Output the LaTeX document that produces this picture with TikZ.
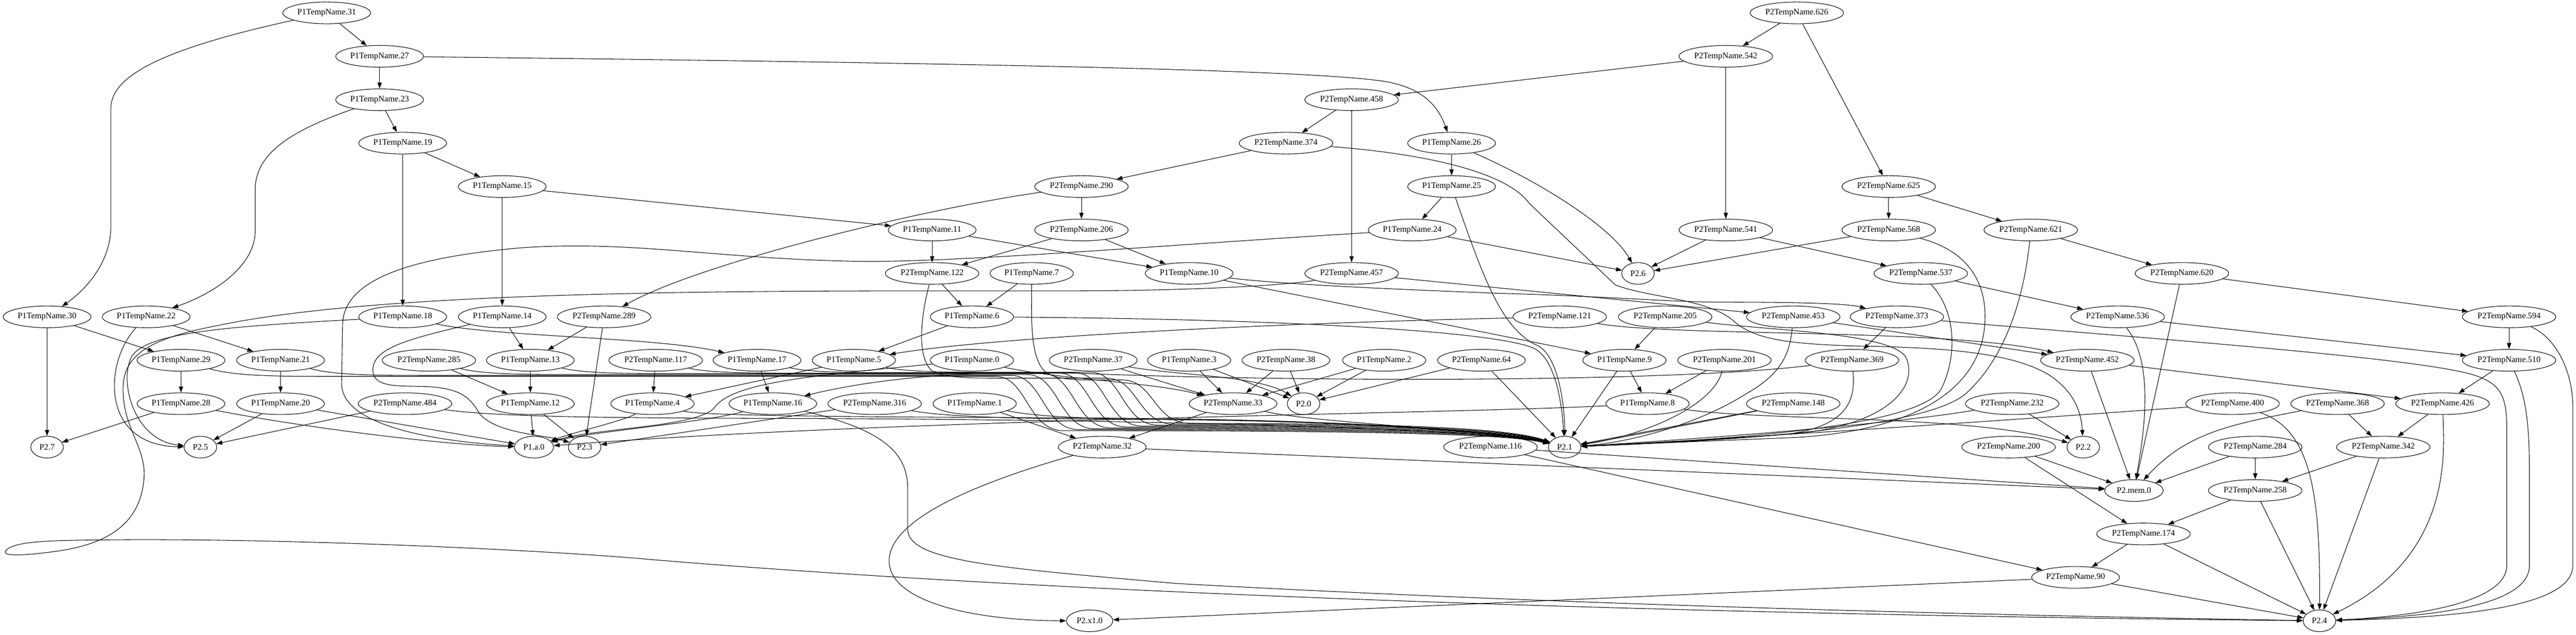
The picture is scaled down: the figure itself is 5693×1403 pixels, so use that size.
\documentclass[tikz,border=0pt]{standalone}
\usepackage{fontspec}
\setmainfont{Liberation Serif}
\usetikzlibrary{shapes.geometric,arrows.meta}
\newcommand\gvfont{\fontsize{14pt}{16pt}\selectfont}
\begin{document}
\begin{tikzpicture}[x=0.75pt,y=-0.75pt,
  gv/.style={draw,ellipse,line width=0.9pt,inner sep=0pt,minimum height=36pt,font=\gvfont},
  w1/.style={minimum width=138pt},
  w2/.style={minimum width=145.5pt},
  w3/.style={minimum width=155pt},
  ws/.style={minimum width=54pt},
  ed/.style={line width=0.9pt,-{Triangle[length=10pt,width=7pt]}}]
\useasboundingbox (0,0) rectangle (5693,1403);
% rank 0-6
\node[gv,w2] (a31) at (722,28.5) {P1TempName.31};
\node[gv,w3] (b626) at (3971,28.5) {P2TempName.626};
\node[gv,w2] (a27) at (839,124.5) {P1TempName.27};
\node[gv,w3] (b542) at (3814,124.5) {P2TempName.542};
\node[gv,w2] (a23) at (839,220.5) {P1TempName.23};
\node[gv,w3] (b458) at (2987,220.5) {P2TempName.458};
\node[gv,w2] (a19) at (890,316.5) {P1TempName.19};
\node[gv,w3] (b374) at (2842,316.5) {P2TempName.374};
\node[gv,w2] (a26) at (3208,316.5) {P1TempName.26};
\node[gv,w2] (a15) at (1110,412.5) {P1TempName.15};
\node[gv,w3] (b290) at (2390,412.5) {P2TempName.290};
\node[gv,w2] (a25) at (3208,412.5) {P1TempName.25};
\node[gv,w3] (b625) at (4174,412.5) {P2TempName.625};
\node[gv,w2] (a11) at (2060,508.5) {P1TempName.11};
\node[gv,w3] (b206) at (2390,508.5) {P2TempName.206};
\node[gv,w2] (a24) at (3121,508.5) {P1TempName.24};
\node[gv,w3] (b541) at (3814,508.5) {P2TempName.541};
\node[gv,w3] (b568) at (4174,508.5) {P2TempName.568};
\node[gv,w3] (b621) at (4488,508.5) {P2TempName.621};
\node[gv,w3] (b122) at (2060,604.5) {P2TempName.122};
\node[gv,w1] (a7) at (2280,604.5) {P1TempName.7};
\node[gv,w2] (a10) at (2628,604.5) {P1TempName.10};
\node[gv,w3] (b457) at (2987,604.5) {P2TempName.457};
\node[gv,ws] (o6) at (3620,604.5) {P2.6};
\node[gv,w3] (b537) at (4245,604.5) {P2TempName.537};
\node[gv,w3] (b620) at (4822,604.5) {P2TempName.620};
% rank 7
\node[gv,w2] (a30) at (104,700.5) {P1TempName.30};
\node[gv,w2] (a22) at (323,700.5) {P1TempName.22};
\node[gv,w2] (a18) at (890,700.5) {P1TempName.18};
\node[gv,w2] (a14) at (1110,700.5) {P1TempName.14};
\node[gv,w3] (b289) at (1335,700.5) {P2TempName.289};
\node[gv,w1] (a6) at (2148,700.5) {P1TempName.6};
\node[gv,w3] (b121) at (3447,700.5) {P2TempName.121};
\node[gv,w3] (b205) at (3680,700.5) {P2TempName.205};
\node[gv,w3] (b453) at (3963,700.5) {P2TempName.453};
\node[gv,w3] (b373) at (4192,700.5) {P2TempName.373};
\node[gv,w3] (b536) at (4680,700.5) {P2TempName.536};
\node[gv,w3] (b594) at (5545,700.5) {P2TempName.594};
% rank 8
\node[gv,w2] (a29) at (400,796.5) {P1TempName.29};
\node[gv,w2] (a21) at (620,796.5) {P1TempName.21};
\node[gv,w3] (b285) at (948,796.5) {P2TempName.285};
\node[gv,w2] (a13) at (1172,796.5) {P1TempName.13};
\node[gv,w3] (b117) at (1449,796.5) {P2TempName.117};
\node[gv,w2] (a17) at (1673,796.5) {P1TempName.17};
\node[gv,w1] (a5) at (1887,796.5) {P1TempName.5};
\node[gv,w1] (a0) at (2148,796.5) {P1TempName.0};
\node[gv,w2] (b37) at (2416,796.5) {P2TempName.37};
\node[gv,w1] (a3) at (2628,796.5) {P1TempName.3};
\node[gv,w2] (b38) at (2842,796.5) {P2TempName.38};
\node[gv,w1] (a2) at (3059,796.5) {P1TempName.2};
\node[gv,w2] (b64) at (3274,796.5) {P2TempName.64};
\node[gv,w1] (a9) at (3590,796.5) {P1TempName.9};
\node[gv,w3] (b201) at (3811,796.5) {P2TempName.201};
\node[gv,w3] (b369) at (4093,796.5) {P2TempName.369};
\node[gv,w3] (b452) at (4613,796.5) {P2TempName.452};
\node[gv,w3] (b510) at (5545,796.5) {P2TempName.510};
% rank 9
\node[gv,w2] (a28) at (400,892.5) {P1TempName.28};
\node[gv,w2] (a20) at (620,892.5) {P1TempName.20};
\node[gv,w3] (b484) at (895,892.5) {P2TempName.484};
\node[gv,w2] (a12) at (1172,892.5) {P1TempName.12};
\node[gv,w1] (a4) at (1442,892.5) {P1TempName.4};
\node[gv,w2] (a16) at (1708,892.5) {P1TempName.16};
\node[gv,w3] (b316) at (1933,892.5) {P2TempName.316};
\node[gv,w1] (a1) at (2154,892.5) {P1TempName.1};
\node[gv,w2] (b33) at (2725,892.5) {P2TempName.33};
\node[gv,ws] (o0) at (2881,892.5) {P2.0};
\node[gv,w1] (a8) at (3641,892.5) {P1TempName.8};
\node[gv,w3] (b148) at (3963,892.5) {P2TempName.148};
\node[gv,w3] (b232) at (4447,892.5) {P2TempName.232};
\node[gv,w3] (b400) at (4934,892.5) {P2TempName.400};
\node[gv,w3] (b368) at (5166,892.5) {P2TempName.368};
\node[gv,w3] (b426) at (5398,892.5) {P2TempName.426};
% rank 10-14
\node[gv,ws] (o7) at (104,988.5) {P2.7};
\node[gv,ws] (o5) at (443,988.5) {P2.5};
\node[gv,minimum width=65pt] (oa0) at (1180,988.5) {P1.a.0};
\node[gv,ws] (o3) at (1292,988.5) {P2.3};
\node[gv,w2] (b32) at (2436,988.5) {P2TempName.32};
\node[gv,w3] (b116) at (3294,988.5) {P2TempName.116};
\node[gv,ws] (o1) at (3458,988.5) {P2.1};
\node[gv,w3] (b200) at (4439,988.5) {P2TempName.200};
\node[gv,ws] (o2) at (4604,988.5) {P2.2};
\node[gv,w3] (b284) at (4984,988.5) {P2TempName.284};
\node[gv,w3] (b342) at (5267,988.5) {P2TempName.342};
\node[gv,minimum width=97pt] (omem) at (4716,1084.5) {P2.mem.0};
\node[gv,w3] (b258) at (4984,1084.5) {P2TempName.258};
\node[gv,w3] (b174) at (4737,1180.5) {P2TempName.174};
\node[gv,w2] (b90) at (4587,1276.5) {P2TempName.90};
\node[gv,minimum width=77pt] (ox1) at (2408,1372.5) {P2.x1.0};
\node[gv,ws] (o4) at (5126,1372.5) {P2.4};

% ---------- edges: left tree ----------
\draw[ed] (a31) -- (a27);
\draw[ed] (a31) .. controls (350,110) and (245,170) .. (245,240) -- (245,500) .. controls (245,580) and (190,640) .. (a30);
\draw[ed] (a27) -- (a23);
\draw[ed] (a27) .. controls (2200,140) and (2900,155) .. (3060,180) .. controls (3150,195) and (3180,240) .. (a26);
\draw[ed] (a23) -- (a19);
\draw[ed] (a23) .. controls (640,290) and (564,340) .. (564,420) -- (564,510) .. controls (564,590) and (470,650) .. (a22);
\draw[ed] (a19) -- (a15);
\draw[ed] (a19) -- (a18);
\draw[ed] (a15) -- (a14);
\draw[ed] (a15) -- (a11);
\draw[ed] (a30) -- (o7);
\draw[ed] (a30) -- (a29);
\draw[ed] (a22) -- (a21);
\draw[ed] (a22) .. controls (230,800) and (220,985) .. (o5);
\draw[ed] (a18) .. controls (500,722) and (320,735) .. (290,790) .. controls (262,850) and (300,975) .. (o5);
\draw[ed] (a18) .. controls (1100,745) and (1450,745) .. (a17);
\draw[ed] (a14) -- (a13);
\draw[ed] (a14) .. controls (900,750) and (822,770) .. (824,820) .. controls (826,860) and (890,852) .. (950,855) .. controls (1020,860) and (1040,880) .. (1060,915) .. controls (1100,960) and (1200,960) .. (o3);
\draw[ed] (b289) -- (a13);
\draw[ed] (b289) -- (o3);
\draw[ed] (b290) .. controls (2050,460) and (1550,580) .. (b289);
\draw[ed] (a29) -- (a28);
\draw[ed] (a21) -- (a20);
\draw[ed] (b285) -- (a12);
\draw[ed] (a13) -- (a12);
\draw[ed] (b117) -- (a4);
\draw[ed] (a17) -- (a16);
\draw[ed] (a5) -- (a4);
\draw[ed] (a28) -- (o7);
\draw[ed] (a28) .. controls (700,950) and (1000,985) .. (oa0);
\draw[ed] (a20) -- (o5);
\draw[ed] (a20) -- (oa0);
\draw[ed] (b484) -- (o5);
\draw[ed] (a12) -- (oa0);
\draw[ed] (a12) -- (o3);
\draw[ed] (a4) .. controls (1380,930) and (1270,955) .. (oa0);
\draw[ed] (a16) .. controls (1550,935) and (1300,955) .. (oa0);
\draw[ed] (a0) .. controls (1800,830) and (1620,845) .. (1580,900) .. controls (1545,945) and (1320,945) .. (oa0);
\draw[ed] (b316) -- (o3);
\draw[ed] (a16) .. controls (1950,950) and (2006,1000) .. (2006,1080) -- (2006,1170) .. controls (2006,1240) and (2200,1255) .. (2600,1290) .. controls (3500,1340) and (4500,1362) .. (o4);
\draw[ed] (b457) .. controls (2850,630) and (2650,642) .. (2400,643) .. controls (1900,645) and (900,630) .. (480,720) .. controls (320,750) and (272,790) .. (272,860) .. controls (272,950) and (325,990) .. (318,1060) .. controls (310,1150) and (250,1200) .. (130,1218) .. controls (30,1232) and (0,1228) .. (15,1215) .. controls (35,1198) and (100,1195) .. (200,1194) .. controls (600,1188) and (1200,1215) .. (1450,1238) .. controls (2500,1325) and (4000,1362) .. (o4);

% ---------- upper bundle to P2.1 ----------
\draw[ed] (a29) .. controls (520,832) and (620,832) .. (720,832) -- (2200,832) .. controls (2270,832) and (2270,952) .. (2350,952) .. controls (3050,952) and (3330,960) .. (o1);
\draw[ed] (a21) .. controls (740,830) and (840,830) .. (940,830) -- (2235,830) .. controls (2305,830) and (2305,950) .. (2385,950) .. controls (3050,950) and (3330,958) .. (o1);
\draw[ed] (b285) .. controls (1068,828) and (1168,828) .. (1268,828) -- (2270,828) .. controls (2340,828) and (2340,948) .. (2420,948) .. controls (3050,948) and (3330,956) .. (o1);
\draw[ed] (a13) .. controls (1292,826) and (1392,826) .. (1492,826) -- (2305,826) .. controls (2375,826) and (2375,946) .. (2455,946) .. controls (3050,946) and (3330,954) .. (o1);
\draw[ed] (b117) .. controls (1569,825) and (1669,825) .. (1769,825) -- (2340,825) .. controls (2410,825) and (2410,944) .. (2490,944) .. controls (3050,944) and (3330,952) .. (o1);
\draw[ed] (a17) .. controls (1793,824) and (1893,824) .. (1993,824) -- (2375,824) .. controls (2445,824) and (2445,942) .. (2525,942) .. controls (3050,942) and (3330,950) .. (o1);
\draw[ed] (a5) .. controls (2007,823) and (2107,823) .. (2207,823) -- (2410,823) .. controls (2480,823) and (2480,940) .. (2560,940) .. controls (3050,940) and (3330,948) .. (o1);
\draw[ed] (b122) .. controls (2035,700) and (2025,790) .. (2060,820) .. controls (2090,836) and (2150,836) .. (2200,836) -- (2445,836) .. controls (2515,836) and (2515,938) .. (2595,938) .. controls (3050,938) and (3330,946) .. (o1);
\draw[ed] (a7) .. controls (2280,700) and (2275,790) .. (2310,822) .. controls (2335,840) and (2380,840) .. (2420,840) -- (2480,840) .. controls (2550,840) and (2550,936) .. (2630,936) .. controls (3050,936) and (3330,944) .. (o1);
% lower bundle
\draw[ed] (b484) .. controls (1100,923) and (1400,924) .. (1700,925) .. controls (2600,927) and (3300,950) .. (o1);
\draw[ed] (a4) .. controls (1560,921) and (2000,922) .. (2400,924) .. controls (2900,926) and (3300,948) .. (o1);
\draw[ed] (b316) .. controls (2100,924) and (2300,926) .. (2500,927) .. controls (2950,929) and (3300,952) .. (o1);
\draw[ed] (a1) .. controls (2300,924) and (2450,926) .. (2600,928) .. controls (3000,931) and (3300,954) .. (o1);
\draw[ed] (b33) .. controls (2900,935) and (3300,950) .. (o1);

% ---------- middle ----------
\draw[ed] (a11) -- (b122);
\draw[ed] (a11) -- (a10);
\draw[ed] (b206) -- (b122);
\draw[ed] (b206) -- (a10);
\draw[ed] (b290) -- (b206);
\draw[ed] (b374) -- (b290);
\draw[ed] (b458) -- (b374);
\draw[ed] (b458) -- (b457);
\draw[ed] (b542) -- (b458);
\draw[ed] (b542) -- (b541);
\draw[ed] (b626) -- (b542);
\draw[ed] (b626) -- (b625);
\draw[ed] (b122) -- (a6);
\draw[ed] (a7) -- (a6);
\draw[ed] (a6) -- (a5);
\draw[ed] (b121) .. controls (2800,715) and (2200,745) .. (a5);
\draw[ed] (a6) .. controls (2800,705) and (3300,730) .. (3390,770) .. controls (3440,795) and (3452,900) .. (o1);
\draw[ed] (a26) -- (a25);
\draw[ed] (a26) .. controls (3400,400) and (3560,500) .. (o6);
\draw[ed] (a25) -- (a24);
\draw[ed] (a25) .. controls (3280,620) and (3320,730) .. (3400,765) .. controls (3445,790) and (3458,900) .. (o1);
\draw[ed] (a24) -- (o6);
\draw[ed] (a24) .. controls (2600,540) and (2150,578) .. (1918,578) .. controls (1600,575) and (1400,530) .. (1150,548) .. controls (900,570) and (757,620) .. (757,720) -- (755,850) .. controls (758,950) and (1000,978) .. (oa0);
\draw[ed] (a10) -- (a9);
\draw[ed] (a10) .. controls (2850,630) and (3100,640) .. (3300,648) .. controls (3550,655) and (3700,668) .. (3800,668) .. controls (3950,668) and (4080,670) .. (b373);
\draw[ed] (b457) -- (b453);
\draw[ed] (b374) .. controls (3150,340) and (3330,380) .. (3380,450) -- (3570,630) .. controls (3650,660) and (3780,660) .. (3835,713) .. controls (3880,750) and (3950,760) .. (4100,765) .. controls (4300,768) and (4450,780) .. (4530,830) .. controls (4590,870) and (4600,920) .. (o2);
\draw[ed] (b121) .. controls (3700,745) and (4300,725) .. (b452);
\draw[ed] (b37) -- (b33);
\draw[ed] (b37) .. controls (2600,830) and (2780,830) .. (o0);
\draw[ed] (a3) -- (b33);
\draw[ed] (a3) -- (o0);
\draw[ed] (b38) -- (b33);
\draw[ed] (b38) -- (o0);
\draw[ed] (a2) -- (b33);
\draw[ed] (a2) -- (o0);
\draw[ed] (b64) -- (o0);
\draw[ed] (b64) -- (o1);
\draw[ed] (a0) .. controls (2350,840) and (2550,845) .. (b33);
\draw[ed] (a1) -- (b32);
\draw[ed] (b33) -- (b32);
\draw[ed] (b32) .. controls (2150,1070) and (1965,1150) .. (1965,1240) .. controls (1965,1330) and (2150,1372) .. (ox1);
\draw[ed] (b32) -- (omem);
\draw[ed] (b116) -- (omem);
\draw[ed] (b116) -- (b90);
\draw[ed] (b90) -- (ox1);
\draw[ed] (b369) .. controls (3700,845) and (2900,845) .. (2400,826) .. controls (2100,815) and (1900,845) .. (a16);

% ---------- into P2.1 from the right ----------
\draw[ed] (b205) -- (a9);
\draw[ed] (b205) .. controls (3900,730) and (4180,735) .. (4212,790) .. controls (4240,850) and (4180,930) .. (4000,955) .. controls (3800,975) and (3600,982) .. (o1);
\draw[ed] (b453) -- (b452);
\draw[ed] (b453) .. controls (3955,790) and (3930,830) .. (3860,870) .. controls (3750,940) and (3600,978) .. (o1);
\draw[ed] (b373) -- (b369);
\draw[ed] (a9) -- (a8);
\draw[ed] (a9) -- (o1);
\draw[ed] (b201) -- (a8);
\draw[ed] (b201) .. controls (3790,890) and (3650,960) .. (o1);
\draw[ed] (b369) .. controls (4100,880) and (4090,940) .. (3950,960) .. controls (3750,975) and (3580,983) .. (o1);
\draw[ed] (a8) .. controls (3200,915) and (2000,925) .. (oa0);
\draw[ed] (a8) .. controls (3900,932) and (4350,915) .. (o2);
\draw[ed] (b148) -- (o1);
\draw[ed] (b148) .. controls (3800,925) and (3600,965) .. (o1);
\draw[ed] (b232) -- (o2);
\draw[ed] (b232) .. controls (4200,935) and (3800,968) .. (o1);
\draw[ed] (b400) .. controls (4500,925) and (3800,972) .. (o1);
\draw[ed] (b537) .. controls (4325,690) and (4325,790) .. (4290,860) .. controls (4240,950) and (3750,975) .. (o1);
\draw[ed] (b568) .. controls (4370,560) and (4395,650) .. (4385,730) .. controls (4370,850) and (4250,955) .. (3950,968) .. controls (3700,978) and (3560,984) .. (o1);
\draw[ed] (b621) .. controls (4475,640) and (4440,780) .. (4350,865) .. controls (4270,950) and (3800,975) .. (o1);

% ---------- right cluster ----------
\draw[ed] (b541) -- (o6);
\draw[ed] (b541) -- (b537);
\draw[ed] (b625) -- (b568);
\draw[ed] (b625) -- (b621);
\draw[ed] (b568) -- (o6);
\draw[ed] (b621) -- (b620);
\draw[ed] (b537) -- (b536);
\draw[ed] (b620) -- (b594);
\draw[ed] (b620) -- (omem);
\draw[ed] (b536) -- (b510);
\draw[ed] (b536) .. controls (4760,800) and (4740,950) .. (omem);
\draw[ed] (b594) -- (b510);
\draw[ed] (b594) .. controls (5655,750) and (5686,830) .. (5686,900) -- (5686,1250) .. controls (5686,1340) and (5450,1365) .. (o4);
\draw[ed] (b510) -- (b426);
\draw[ed] (b510) .. controls (5585,880) and (5590,950) .. (5590,1050) -- (5590,1250) .. controls (5590,1335) and (5400,1362) .. (o4);
\draw[ed] (b373) .. controls (4700,745) and (5350,790) .. (5470,830) .. controls (5530,850) and (5540,880) .. (5540,950) -- (5540,1250) .. controls (5540,1330) and (5350,1362) .. (o4);
\draw[ed] (b452) -- (b426);
\draw[ed] (b452) -- (omem);
\draw[ed] (b400) .. controls (5110,950) and (5128,1100) .. (o4);
\draw[ed] (b368) .. controls (4920,940) and (4830,960) .. (omem);
\draw[ed] (b368) -- (b342);
\draw[ed] (b426) -- (b342);
\draw[ed] (b426) .. controls (5402,1000) and (5420,1230) .. (o4);
\draw[ed] (b200) -- (omem);
\draw[ed] (b200) -- (b174);
\draw[ed] (b284) -- (omem);
\draw[ed] (b284) -- (b258);
\draw[ed] (b342) -- (b258);
\draw[ed] (b342) -- (o4);
\draw[ed] (b258) -- (b174);
\draw[ed] (b258) -- (o4);
\draw[ed] (b174) -- (b90);
\draw[ed] (b174) -- (o4);
\draw[ed] (b90) -- (o4);
\end{tikzpicture}
\end{document}
